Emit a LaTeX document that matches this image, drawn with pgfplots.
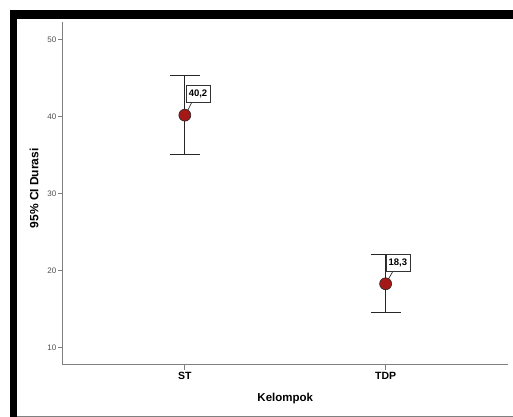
\documentclass[border=0pt]{standalone}
\usepackage{fontspec}
\setmainfont{Liberation Sans}
\usepackage{pgfplots}
\pgfplotsset{compat=1.18}
\definecolor{axgray}{HTML}{808080}
\definecolor{ticklab}{HTML}{505050}
\definecolor{markred}{HTML}{A51818}
\begin{document}
\begin{tikzpicture}
\fill[white] (0bp,0bp) rectangle (513bp,417bp);
\fill[black] (10bp,398bp) rectangle (513bp,407bp);
\fill[black] (10bp,0bp) rectangle (17bp,407bp);
\draw[axgray, line width=1bp] (17bp,0.5bp) -- (513bp,0.5bp);
\begin{axis}[
  at={(63bp,52bp)}, anchor=south west,
  scale only axis, width=445bp, height=343bp,
  xmin=0.393, xmax=2.607, ymin=7.8, ymax=52.3,
  axis lines=left,
  axis line style={axgray, line width=0.9bp, -},
  xtick={1,2}, xticklabels={ST,TDP},
  ytick={10,20,30,40,50},
  tick style={axgray, line width=0.9bp},
  tick align=outside, major tick length=5bp,
  /pgf/number format/assume math mode=true,
  x tick label style={font=\fontsize{10.5bp}{12bp}\selectfont\bfseries, text=black, inner sep=2bp},
  y tick label style={font=\fontsize{8bp}{9bp}\selectfont, text=ticklab, inner sep=1.5bp},
  clip=false,
]
\addplot[only marks, mark=*, mark size=6bp,
  mark options={fill=markred, draw=black!85, line width=0.6bp},
  error bars/.cd, y dir=both, y explicit,
  error bar style={black!85, line width=0.9bp},
  error mark options={rotate=90, mark size=15bp, black!85, line width=0.9bp}]
  coordinates {
    (1,40.2) += (0,5.2) -= (0,5.1)
    (2,18.3) += (0,3.8) -= (0,3.7)
  };
\draw[black!80, line width=0.7bp] ([xshift=3bp,yshift=5bp]axis cs:1,40.2) -- ([xshift=7bp,yshift=13bp]axis cs:1,40.2);
\node[draw=black!80, fill=white, anchor=south west, inner sep=1.5bp, minimum height=17bp, minimum width=24bp,
  font=\fontsize{9.5bp}{10bp}\selectfont\bfseries] at ([xshift=1bp,yshift=13bp]axis cs:1,40.2) {40,2};
\draw[black!80, line width=0.7bp] ([xshift=3bp,yshift=5bp]axis cs:2,18.3) -- ([xshift=7bp,yshift=12bp]axis cs:2,18.3);
\node[draw=black!80, fill=white, anchor=south west, inner sep=1.5bp, minimum height=17bp, minimum width=24bp,
  font=\fontsize{9.5bp}{10bp}\selectfont\bfseries] at ([xshift=0bp,yshift=12bp]axis cs:2,18.3) {18,3};
\node[font=\fontsize{12bp}{14bp}\selectfont\bfseries, rotate=90] at ([xshift=-29bp,yshift=5bp]axis description cs:0,0.5) {95\% CI Durasi};
\node[font=\fontsize{11.5bp}{13bp}\selectfont\bfseries] at ([yshift=-34bp]axis description cs:0.5,0) {Kelompok};
\end{axis}
\end{tikzpicture}
\end{document}
